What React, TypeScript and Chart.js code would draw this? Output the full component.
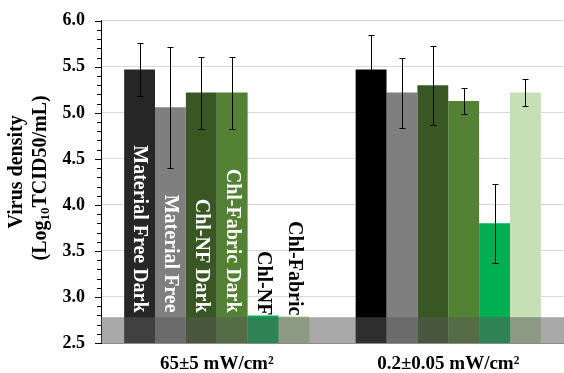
import React, { useEffect, useRef } from 'react';
import { Chart, registerables } from 'chart.js';
Chart.register(...registerables);

const FONT = '"Liberation Serif", "Times New Roman", serif';

const categories = ['65±5 mW/cm²', '0.2±0.05 mW/cm²'];
const seriesNames = ['Material Free Dark', 'Material Free', 'Chl-NF Dark', 'Chl-Fabric Dark', 'Chl-NF', 'Chl-Fabric'];

const materialFreeDark = [5.47, 5.47];
const materialFree = [5.06, 5.22];
const chlNFDark = [5.22, 5.3];
const chlFabricDark = [5.22, 5.13];
const chlNF = [2.8, 3.8];
const chlFabric = [2.79, 5.22];

const errMaterialFreeDark = [0.29, 0.38];
const errMaterialFree = [0.66, 0.38];
const errChlNFDark = [0.39, 0.43];
const errChlFabricDark = [0.39, 0.145];
const errChlNF = [0, 0.43];
const errChlFabric = [0, 0.145];

const detectionLimit = 2.78;
const yMin = 2.5;
const yMax = 6.0;
const yStep = 0.5;
const yMinorStep = 0.1;

const seriesValues = [materialFreeDark, materialFree, chlNFDark, chlFabricDark, chlNF, chlFabric];
const seriesErrors = [errMaterialFreeDark, errMaterialFree, errChlNFDark, errChlFabricDark, errChlNF, errChlFabric];
const seriesColors = [
  ['#262626', '#000000'],
  ['#7f7f7f', '#7f7f7f'],
  ['#385723', '#385723'],
  ['#548235', '#548235'],
  ['#00b050', '#00b050'],
  ['#c5e0b4', '#c5e0b4'],
];
const labelColors = ['#ffffff', '#ffffff', '#ffffff', '#ffffff', '#000000', '#000000'];

export default function App() {
  const ref = useRef<HTMLCanvasElement>(null);

  useEffect(() => {
    if (!ref.current) return;
    const customPlugin = {
      id: 'customDraw',
      afterDatasetsDraw(chart: any) {
        const ctx = chart.ctx;
        const ys = chart.scales.y;
        const area = chart.chartArea;
        // error bars
        ctx.save();
        ctx.strokeStyle = '#000';
        ctx.lineWidth = 1;
        chart.data.datasets.forEach((ds: any, i: number) => {
          const meta = chart.getDatasetMeta(i);
          meta.data.forEach((bar: any, j: number) => {
            const e = seriesErrors[i][j];
            if (!e) return;
            const v = ds.data[j];
            const x = Math.round(bar.x) + 0.5;
            const yt = Math.round(ys.getPixelForValue(v + e)) + 0.5;
            const yb = Math.round(ys.getPixelForValue(v - e)) + 0.5;
            ctx.beginPath();
            ctx.moveTo(x, yt);
            ctx.lineTo(x, yb);
            ctx.moveTo(x - 3, yt);
            ctx.lineTo(x + 3, yt);
            ctx.moveTo(x - 3, yb);
            ctx.lineTo(x + 3, yb);
            ctx.stroke();
          });
        });
        ctx.restore();

        // labels inside bars of first category
        ctx.save();
        ctx.font = `bold 20px ${FONT}`;
        ctx.textAlign = 'right';
        ctx.textBaseline = 'middle';
        chart.data.datasets.forEach((ds: any, i: number) => {
          const bar = chart.getDatasetMeta(i).data[0];
          const endY = i < 4 ? ys.getPixelForValue(2.83) : ys.getPixelForValue(2.8);
          ctx.save();
          ctx.translate(bar.x, endY);
          ctx.rotate(Math.PI / 2);
          ctx.fillStyle = labelColors[i];
          ctx.fillText(seriesNames[i], 0, 0);
          ctx.restore();
        });
        ctx.restore();

        // detection limit band
        ctx.save();
        ctx.fillStyle = 'rgba(89,89,89,0.52)';
        const top = ys.getPixelForValue(detectionLimit);
        ctx.fillRect(area.left, top, area.right - area.left, area.bottom - top);
        ctx.restore();
      },
      afterDraw(chart: any) {
        const ctx = chart.ctx;
        const ys = chart.scales.y;
        const area = chart.chartArea;
        // minor/major ticks on y axis
        ctx.save();
        ctx.strokeStyle = '#000';
        ctx.lineWidth = 1;
        const n = Math.round((yMax - yMin) / yMinorStep);
        for (let k = 0; k <= n; k++) {
          const v = yMin + k * yMinorStep;
          const py = Math.round(ys.getPixelForValue(v)) + 0.5;
          const major = k % Math.round(yStep / yMinorStep) === 0;
          const len = major ? 6 : 4;
          ctx.beginPath();
          ctx.moveTo(area.left - len, py);
          ctx.lineTo(area.left, py);
          ctx.stroke();
        }
        ctx.restore();

        // y axis title
        ctx.save();
        ctx.fillStyle = '#000';
        ctx.font = `bold 20px ${FONT}`;
        ctx.textBaseline = 'middle';
        ctx.textAlign = 'center';
        const cy = (area.top + area.bottom) / 2;
        ctx.translate(16.5, cy - 10);
        ctx.rotate(-Math.PI / 2);
        ctx.fillText('Virus density', 0, 0);
        ctx.restore();

        ctx.save();
        ctx.fillStyle = '#000';
        ctx.textBaseline = 'middle';
        ctx.translate(41, cy - 4);
        ctx.rotate(-Math.PI / 2);
        const big = `bold 20px ${FONT}`;
        const small = `bold 13px ${FONT}`;
        const parts = [
          { t: '(Log', f: big, dy: 0 },
          { t: '10', f: small, dy: 5 },
          { t: 'TCID50/mL)', f: big, dy: 0 },
        ];
        let total = 0;
        parts.forEach((p) => { ctx.font = p.f; total += ctx.measureText(p.t).width; });
        let x = -total / 2;
        ctx.textAlign = 'left';
        parts.forEach((p) => {
          ctx.font = p.f;
          ctx.fillText(p.t, x, p.dy);
          x += ctx.measureText(p.t).width;
        });
        ctx.restore();
      },
    };

    const chart = new Chart(ref.current, {
      type: 'bar',
      data: {
        labels: categories,
        datasets: seriesValues.map((vals, i) => ({
          label: seriesNames[i],
          data: vals,
          backgroundColor: seriesColors[i],
          borderWidth: 0,
          categoryPercentage: 0.8,
          barPercentage: 1.0,
        })),
      },
      options: {
        animation: false,
        responsive: true,
        maintainAspectRatio: false,
        layout: { padding: { top: 16, right: 0, bottom: 0, left: 0 } },
        plugins: { legend: { display: false }, tooltip: { enabled: false }, title: { display: false } },
        scales: {
          x: {
            afterFit: (s: any) => { s.height = 30; },
            grid: { display: true, color: 'transparent', drawTicks: false },
            border: { display: true, color: '#8c8c8c', width: 1 },
            ticks: { color: '#000', font: { family: FONT, size: 19, weight: 'bold' }, padding: 10 },
          },
          y: {
            min: yMin,
            max: yMax,
            afterFit: (s: any) => { s.width = 101; },
            ticks: {
              stepSize: yStep,
              color: '#000',
              font: { family: FONT, size: 18, weight: 'bold' },
              padding: 10,
              callback: (v: any) => Number(v).toFixed(1),
            },
            grid: { color: '#d9d9d9', tickLength: 6, tickColor: 'transparent' },
            border: { display: true, color: '#000', width: 1 },
          },
        },
      },
      plugins: [customPlugin],
    });
    return () => chart.destroy();
  }, []);

  return (
    <div style={{ position: 'fixed', left: 0, top: 0, width: 564, height: 373, background: '#fff' }}>
      <canvas ref={ref} />
    </div>
  );
}
